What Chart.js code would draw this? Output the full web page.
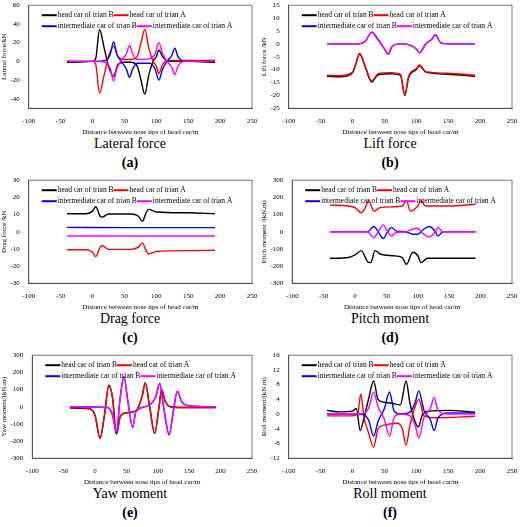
<!DOCTYPE html>
<html><head><meta charset="utf-8">
<script src="https://cdn.jsdelivr.net/npm/chart.js@4.4.1/dist/chart.umd.min.js"></script>
<style>
body{margin:0;background:#fff;width:520px;height:527px;position:relative;font-family:"Liberation Serif",serif;overflow:hidden}
.p{position:absolute;width:260px;height:175px}
.p canvas{position:absolute;left:0;top:0}
.t{position:absolute;left:0;width:260px;text-align:center;font-size:14px;top:136px}
.l{position:absolute;left:0;width:260px;text-align:center;font-size:14px;font-weight:bold;top:155px}
</style></head><body>
<script>
const labels=["head car of trian B","head car of trian A","intermediate car of trian B","intermediate car of trian A"];
const colors=["#000000","#ff0000","#0000ff","#ff00ff"];
const xTicks=[-100,-50,0,50,100,150,200,250];

// (a) Lateral force
const latHB=[[-40,-1],[0,0],[5,3],[11,34],[18,15],[25,-5],[33,-16],[40,-3],[50,-1],[60,-1],[70,-5],[76,-20],[82,-35],[88,-15],[95,0],[100,5],[104,12],[110,5],[120,0],[150,0],[192,-1]];
const latHA=[[-40,0],[0,0],[5,-3],[11,-34],[18,-15],[25,5],[33,16],[40,5],[50,2],[60,2],[70,5],[76,20],[82,34],[88,15],[95,0],[100,-5],[104,-13],[110,-3],[120,1],[150,1],[192,1]];
const latIB=[[-40,0],[0,0],[20,1],[28,8],[33,21],[38,8],[45,0],[53,-8],[58,-17],[63,-8],[70,-2],[90,-2],[98,-8],[104,-20],[110,-8],[118,1],[124,6],[129,14],[134,5],[145,0],[192,0]];
const latIA=[[-40,0],[0,0],[20,-1],[28,-8],[33,-21],[38,-8],[45,1],[53,8],[58,17],[63,8],[70,2],[90,3],[98,8],[104,20],[110,8],[118,-1],[124,-6],[129,-14],[134,-5],[145,0],[192,0]];
// (b) Lift force
const liftHB=[[-40,-12.6],[-20,-12.8],[0,-11.2],[5,-8],[11,-4],[20,-9],[30,-14.8],[40,-12],[60,-11.6],[75,-12.2],[82,-20],[88,-13],[100,-10],[105,-8.5],[115,-11],[150,-11.8],[192,-12.6]];
const liftHA=[[-40,-12.2],[-20,-12.4],[0,-11],[5,-7.8],[11,-3.6],[20,-8.8],[30,-14.4],[40,-11.6],[60,-11.2],[75,-11.8],[82,-19.6],[88,-12.6],[100,-9.6],[105,-8.2],[115,-10.8],[150,-11.4],[192,-12.2]];
const liftIB=[[-40,0],[10,0],[20,1],[30,4.5],[40,1.8],[50,-2],[56,-4],[62,-1],[75,0],[90,-0.5],[100,-2],[105,-3.5],[115,0],[125,2],[130,3.5],[138,0.5],[150,0],[192,0]];
const liftIA=[[-40,0],[10,0],[20,1],[30,4.5],[40,1.5],[50,-2],[56,-4],[62,-1],[75,0],[90,-0.5],[100,-2],[105,-3.5],[115,0],[125,2],[130,3.5],[138,0.5],[150,0],[192,0]];
// (c) Drag force
const dragHB=[[-40,10.5],[-10,10.5],[0,12],[5,14.5],[12,9],[15,8.5],[25,10.3],[60,10.3],[72,9],[78,6],[84,11],[88,13],[100,11.5],[150,11],[192,10.5]];
const dragHA=[[-40,-10.5],[-10,-10.5],[0,-12],[5,-14.5],[12,-9],[15,-8],[25,-10.3],[60,-10.3],[72,-9],[78,-6.5],[84,-11],[88,-13],[100,-11.5],[150,-11],[192,-10.8]];
const dragIB=[[-40,2.5],[50,2.4],[192,2.4]];
const dragIA=[[-40,-2.5],[50,-2.5],[192,-2.5]];
// (d) Pitch moment
const pitHB=[[-40,-155],[-10,-150],[0,-135],[10,-110],[20,-175],[25,-180],[32,-110],[40,-130],[60,-140],[75,-150],[82,-190],[92,-120],[100,-140],[105,-180],[115,-155],[192,-155]];
const pitHA=[[-40,155],[-10,150],[0,140],[10,110],[15,130],[22,180],[30,120],[40,140],[60,145],[75,150],[82,180],[88,120],[100,150],[105,180],[112,150],[150,150],[192,160]];
const pitIB=[[-40,0],[20,0],[30,30],[37,0],[45,-40],[52,0],[58,25],[65,5],[80,0],[92,-15],[100,-15],[108,10],[118,30],[128,0],[132,-25],[140,0],[192,0]];
const pitIA=[[-40,0],[20,0],[30,-35],[37,0],[45,40],[52,0],[58,-25],[65,-5],[80,0],[92,15],[100,20],[108,-10],[118,-30],[128,0],[132,25],[140,0],[192,0]];
// (e) Yaw moment
const yawHB=[[-40,-8],[-10,-12],[0,-50],[8,-185],[15,-50],[22,125],[28,50],[34,-160],[40,-60],[50,-35],[65,-25],[75,60],[80,140],[87,0],[95,-155],[102,0],[106,100],[112,30],[120,0],[150,-5],[192,-5]];
const yawHA=[[-40,-5],[-10,-10],[0,-50],[8,-185],[15,-50],[22,120],[28,50],[34,-160],[40,-60],[50,-35],[65,-25],[75,60],[80,135],[87,0],[95,-155],[102,0],[106,95],[112,30],[120,0],[150,-5],[192,-5]];
const yawIB=[[-40,0],[20,-5],[28,-50],[34,-150],[40,50],[46,175],[52,40],[60,-120],[65,-30],[80,0],[90,20],[97,60],[103,135],[110,-20],[118,-165],[125,-20],[131,90],[138,30],[150,5],[192,0]];
const yawIA=[[-40,0],[20,-5],[28,-50],[34,-145],[40,50],[46,175],[52,40],[60,-120],[65,-30],[80,0],[90,20],[97,60],[103,135],[110,-20],[118,-160],[125,-20],[131,90],[138,30],[150,5],[192,0]];
// (f) Roll moment
const rolHB=[[-40,1],[-20,0.6],[0,0.8],[6,1.5],[12,-4.5],[18,-1],[25,4],[33,9],[40,4],[50,3.2],[60,3],[75,2.5],[84,9],[90,3],[98,-2],[103,-3.5],[110,0],[120,0.8],[150,1],[192,0.5]];
const rolHA=[[-40,-0.5],[0,-0.5],[8,0],[13,5.5],[18,-1],[25,-5],[33,-9],[40,-4],[50,-3],[70,-2.5],[78,-4],[84,-8.5],[90,-3],[98,2],[104,4],[112,-0.5],[130,-1],[192,-0.6]];
const rolIB=[[-40,0],[10,0],[25,-1.5],[33,-6],[40,-2],[50,1.5],[58,6],[65,1],[75,0],[90,0.5],[98,3],[104,6.3],[112,1],[122,-1.5],[128,-4.5],[134,-1],[150,0.3],[192,0.3]];
const rolIA=[[-40,0],[10,0],[25,1.5],[33,6],[40,2],[50,-1.5],[58,-6],[65,-1],[75,0],[90,-0.5],[98,-3],[104,-6.5],[112,-1],[122,1.5],[128,4.5],[134,1],[150,0],[192,0]];

const panels=[
 {x:0,y:0,series:[latHB,latHA,latIB,latIA],ymin:-50,ymax:60,step:20,ylab:"Lateral force/kN",title:"Lateral force",tag:"(a)",yt:[-40,-20,0,20,40,60]},
 {x:260,y:0,series:[liftHB,liftHA,liftIB,liftIA],ymin:-25,ymax:15,step:5,ylab:"Lift force /kN",title:"Lift force",tag:"(b)"},
 {x:0,y:175,series:[dragHB,dragHA,dragIB,dragIA],ymin:-30,ymax:30,step:10,ylab:"Drag force /kN",title:"Drag force",tag:"(c)"},
 {x:260,y:175,series:[pitHB,pitHA,pitIB,pitIA],ymin:-300,ymax:300,step:100,ylab:"Pitch moment /(kN.m)",title:"Pitch moment",tag:"(d)"},
 {x:0,y:350,series:[yawHB,yawHA,yawIB,yawIA],ymin:-300,ymax:300,step:100,ylab:"Yaw moment/(kN.m)",title:"Yaw moment",tag:"(e)"},
 {x:260,y:350,series:[rolHB,rolHA,rolIB,rolIA],ymin:-12,ymax:16,step:4,ylab:"Roll moment/(kN.m)",title:"Roll moment",tag:"(f)"}
];
const F="'Liberation Serif', serif";
const boxPlug={id:'box',afterDraw(c){const a=c.chartArea,g=c.ctx;g.save();g.strokeStyle='#555';g.lineWidth=0.8;g.strokeRect(a.left,a.top,a.right-a.left,a.bottom-a.top);
 // legend: two rows
 g.font="7.5px "+F;g.textBaseline='middle';
 c.data.datasets.forEach((ds,i)=>{
  const row=Math.floor(i/2);const y=a.top+10+row*11;
  let x=a.left+13;
  if(i%2===1){x+=15+g.measureText(c.data.datasets[i-1].label).width+1;}
  g.strokeStyle=ds.borderColor;g.lineWidth=2;g.beginPath();g.moveTo(x,y);g.lineTo(x+15,y);g.stroke();
  g.fillStyle='#000';g.fillText(ds.label,x+16,y);
 });
 g.restore();}};
panels.forEach(p=>{
 const d=document.createElement('div');d.className='p';d.style.left=p.x+'px';d.style.top=p.y+'px';
 const cv=document.createElement('canvas');d.appendChild(cv);
 const t=document.createElement('div');t.className='t';t.textContent=p.title;d.appendChild(t);
 const l=document.createElement('div');l.className='l';l.textContent=p.tag;d.appendChild(l);
 document.body.appendChild(d);
 cv.width=260;cv.height=136;cv.style.width='260px';cv.style.height='136px';
 new Chart(cv,{type:'line',
  data:{datasets:p.series.map((s,i)=>({label:labels[i],order:4-i,data:s.map(v=>({x:v[0],y:v[1]})),borderColor:colors[i],backgroundColor:colors[i],borderWidth:1.4,pointRadius:0,cubicInterpolationMode:'monotone',fill:false}))},
  options:{responsive:false,animation:false,devicePixelRatio:1,
   layout:{padding:{left:0,right:8,top:4,bottom:0}},
   plugins:{legend:{display:false},tooltip:{enabled:false}},
   scales:{
    x:{type:'linear',min:-100,max:250,afterBuildTicks:a=>{a.ticks=xTicks.map(v=>({value:v}));},grid:{display:false},border:{color:'#555'},ticks:{color:'#000',font:{family:F,size:7},padding:1},title:{display:true,text:'Distance between nose tips of head car/m',color:'#000',font:{family:F,size:7},padding:{top:1,bottom:0}}},
    y:{min:p.ymin,max:p.ymax,ticks:{stepSize:p.step,color:'#000',font:{family:F,size:7},padding:1},afterBuildTicks:p.yt?(a=>{a.ticks=p.yt.map(v=>({value:v}));}):undefined,grid:{display:false},border:{color:'#555'},title:{display:true,text:p.ylab,color:'#000',font:{family:F,size:7},padding:{top:0,bottom:1}}}
   }},
  plugins:[boxPlug]});
});
</script>
</body></html>
